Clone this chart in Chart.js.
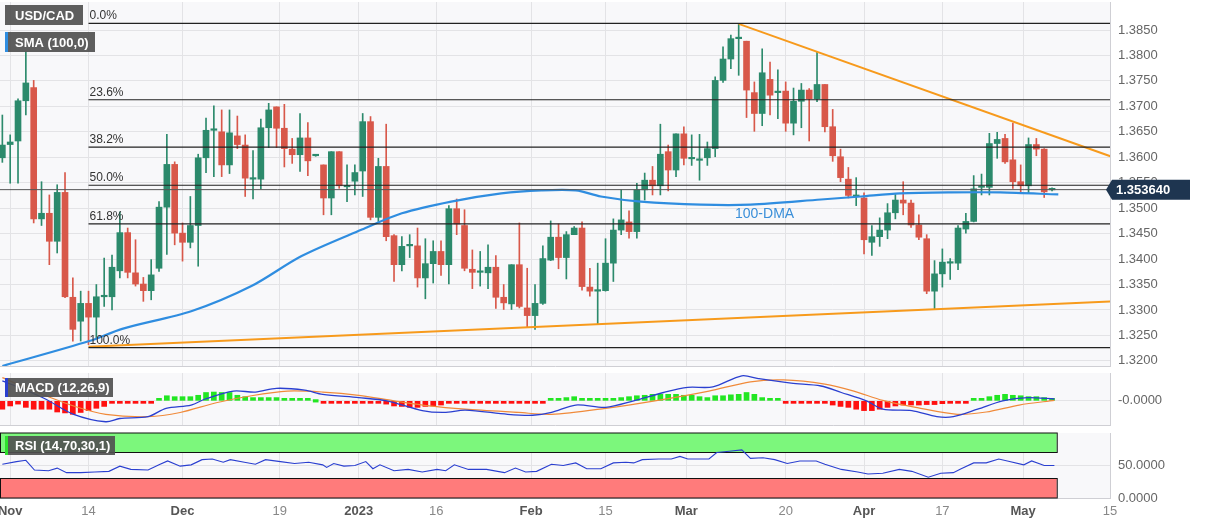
<!DOCTYPE html>
<html><head><meta charset="utf-8">
<script src="https://cdn.jsdelivr.net/npm/chart.js@4.4.0/dist/chart.umd.min.js"></script>
<style>
body{margin:0;background:#fff;overflow:hidden}
.p{position:absolute;left:0;width:1207px}
</style></head><body>
<div class="p" style="top:0;height:368px"><canvas id="main"></canvas></div>
<div class="p" style="top:370px;height:58px"><canvas id="macd"></canvas></div>
<div class="p" style="top:430px;height:96px"><canvas id="rsi"></canvas></div>
<script>
// daily candles, index = trading day from 31 Oct 2022
let opens = [1.3599,1.3625,1.3632,1.3711,1.3737,1.3479,1.3490,1.3435,1.3531,1.3325,1.3278,1.3313,1.3286,1.3326,1.3326,1.3377,1.3452,1.3373,1.3351,1.3338,
1.3382,1.3502,1.3586,1.3451,1.3433,1.3466,1.3599,1.3653,1.3650,1.3585,1.3642,1.3624,1.3557,1.3557,1.3658,1.3699,1.3657,1.3616,1.3605,1.3638,
1.3603,1.3585,1.3520,1.3611,1.3542,1.3553,1.3573,1.3670,1.3482,1.3582,1.3446,1.3389,1.3426,1.3426,1.3363,1.3391,1.3415,1.3389,1.3499,1.3466,
1.3380,1.3374,1.3373,1.3384,1.3325,1.3312,1.3389,1.3304,1.3289,1.3313,1.3398,1.3443,1.3403,1.3448,1.3461,1.3345,1.3337,1.3338,1.3392,1.3457,
1.3473,1.3454,1.3536,1.3555,1.3544,1.3611,1.3575,1.3646,1.3597,1.3594,1.3599,1.3617,1.3751,1.3793,1.3833,1.3828,1.3727,1.3686,1.3753,1.3727,
1.3730,1.3667,1.3710,1.3732,1.3715,1.3743,1.3660,1.3601,1.3557,1.3523,1.3520,1.3433,1.3444,1.3457,1.3491,1.3516,1.3510,1.3467,1.3440,1.3337,
1.3371,1.3392,1.3392,1.3459,1.3474,1.3541,1.3541,1.3627,1.3637,1.3595,1.3552,1.3544,1.3625,1.3616,1.3536];
let closes = [1.3624,1.3630,1.3711,1.3746,1.3479,1.3490,1.3435,1.3531,1.3326,1.3262,1.3313,1.3286,1.3326,1.3327,1.3384,1.3452,1.3374,1.3351,1.3338,1.3369,
1.3502,1.3586,1.3451,1.3433,1.3466,1.3599,1.3653,1.3654,1.3585,1.3648,1.3625,1.3559,1.3558,1.3658,1.3693,1.3657,1.3617,1.3605,1.3638,1.3593,
1.3604,1.3520,1.3611,1.3544,1.3543,1.3570,1.3670,1.3482,1.3582,1.3444,1.3389,1.3425,1.3427,1.3363,1.3391,1.3415,1.3389,1.3499,1.3469,1.3382,
1.3374,1.3375,1.3384,1.3325,1.3314,1.3389,1.3307,1.3289,1.3313,1.3401,1.3443,1.3403,1.3448,1.3461,1.3346,1.3337,1.3338,1.3392,1.3457,1.3477,
1.3454,1.3536,1.3555,1.3544,1.3606,1.3575,1.3646,1.3598,1.3598,1.3595,1.3617,1.3751,1.3793,1.3833,1.3834,1.3732,1.3686,1.3766,1.3722,1.3728,
1.3667,1.3710,1.3732,1.3715,1.3743,1.3660,1.3603,1.3560,1.3525,1.3524,1.3438,1.3444,1.3457,1.3491,1.3516,1.3510,1.3467,1.3443,1.3337,1.3371,
1.3394,1.3393,1.3461,1.3474,1.3538,1.3542,1.3627,1.3635,1.3591,1.3552,1.3544,1.3625,1.3616,1.3532,1.3537];
let highs = [1.3683,1.3644,1.3715,1.3807,1.3751,1.3552,1.3526,1.3546,1.3570,1.3363,1.3337,1.3337,1.3350,1.3402,1.3408,1.3493,1.3461,1.3438,1.3364,1.3399,
1.3513,1.3645,1.3591,1.3471,1.3523,1.3606,1.3677,1.3701,1.3693,1.3693,1.3681,1.3644,1.3613,1.3675,1.3706,1.3699,1.3704,1.3637,1.3686,1.3668,
1.3605,1.3585,1.3611,1.3611,1.3585,1.3585,1.3686,1.3680,1.3598,1.3665,1.3448,1.3444,1.3448,1.3461,1.3440,1.3436,1.3436,1.3505,1.3518,1.3497,
1.3418,1.3415,1.3428,1.3407,1.3350,1.3389,1.3471,1.3382,1.3350,1.3426,1.3475,1.3469,1.3454,1.3464,1.3473,1.3382,1.3392,1.3440,1.3479,1.3536,
1.3495,1.3549,1.3569,1.3582,1.3665,1.3624,1.3646,1.3660,1.3644,1.3645,1.3630,1.3758,1.3817,1.3840,1.3862,1.3828,1.3748,1.3813,1.3787,1.3772,
1.3748,1.3736,1.3745,1.3735,1.3807,1.3743,1.3694,1.3616,1.3580,1.3560,1.3530,1.3466,1.3481,1.3509,1.3527,1.3552,1.3516,1.3487,1.3448,1.3397,
1.3420,1.3401,1.3466,1.3490,1.3564,1.3567,1.3647,1.3649,1.3645,1.3667,1.3585,1.3638,1.3637,1.3617,1.3540];
let lows = [1.3590,1.3549,1.3549,1.3683,1.3471,1.3466,1.3389,1.3412,1.3324,1.3239,1.3239,1.3232,1.3245,1.3307,1.3300,1.3363,1.3363,1.3347,1.3317,1.3320,
1.3376,1.3409,1.3428,1.3396,1.3422,1.3386,1.3570,1.3562,1.3562,1.3568,1.3617,1.3523,1.3518,1.3538,1.3619,1.3619,1.3581,1.3588,1.3572,1.3564,
1.3602,1.3487,1.3487,1.3539,1.3513,1.3526,1.3523,1.3477,1.3474,1.3436,1.3356,1.3377,1.3403,1.3345,1.3322,1.3353,1.3368,1.3351,1.3448,1.3377,
1.3342,1.3347,1.3342,1.3303,1.3301,1.3301,1.3304,1.3266,1.3262,1.3311,1.3397,1.3381,1.3361,1.3448,1.3339,1.3327,1.3273,1.3337,1.3356,1.3448,
1.3441,1.3441,1.3516,1.3526,1.3526,1.3534,1.3562,1.3585,1.3584,1.3555,1.3584,1.3601,1.3747,1.3774,1.3761,1.3678,1.3651,1.3662,1.3683,1.3676,
1.3651,1.3644,1.3658,1.3632,1.3709,1.3650,1.3592,1.3552,1.3520,1.3505,1.3410,1.3407,1.3425,1.3440,1.3479,1.3487,1.3462,1.3438,1.3332,1.3301,
1.3345,1.3360,1.3379,1.3451,1.3473,1.3526,1.3526,1.3598,1.3588,1.3539,1.3529,1.3529,1.3603,1.3521,1.3534];

let smaIdx = [0,11.1,15.3,24.2,31.8,38.2,45.9,51,57.3,63.7,68.8,73.2,76.4,81.5,89.2,95.5,104.5,109.6,114.6,121,127.4,134.8];
let smaVal = [1.3190,1.3239,1.3263,1.3298,1.3347,1.3406,1.3458,1.3490,1.3513,1.3529,1.3535,1.3535,1.3523,1.3513,1.3507,1.3507,1.3517,1.3523,1.3529,1.3531,1.3531,1.3527];

let fibNames = ["0.0%","23.6%","38.2%","50.0%","61.8%","100.0%"];
let fibLevels = [1.3863,1.3713,1.3620,1.3545,1.3469,1.3226];
let lastPrice = 1.35364;
let upperTrend = [{x:94,y:1.3862},{x:142,y:1.3599}];
let lowerTrend = [{x:11,y:1.3228},{x:142,y:1.3317}];

let macdIdx = [0,2.7,5.5,9.1,13.2,15,18.6,20.9,24.1,25.9,29.5,32.3,35,38.6,40.9,45.5,49.1,53.6,56.4,59.1,64.5,67.7,
70.1,73.2,77,80.6,84.4,87.5,90.7,94.4,96.5,100.7,104.5,107.1,110.3,112.4,116.1,119.3,121.4,124.5,127.7,130.9,134.3];
let macdVal = [0.0043,0.0025,0.0004,-0.0029,-0.0045,-0.0038,-0.0034,-0.0016,-0.0009,0.0004,0.0021,0.0019,0.0027,0.0023,0.0014,0.0007,0,-0.0021,-0.0025,-0.0020,-0.0029,-0.0031,
-0.0025,-0.0009,-0.0014,0,0.0018,0.0029,0.0030,0.0054,0.0048,0.0038,0.0032,0.0018,0,-0.0018,-0.0021,-0.0034,-0.0034,-0.0018,0,0.0007,0.0004];
let sigIdx = [0,4.5,9.1,13.2,18.6,22.7,27.3,31.8,36.4,40.9,45.5,50,54.5,59.1,65.9,
70.1,77,83.3,90.2,95.5,99.7,105,108.7,112.4,116.6,121.9,125.6,129.8,134.3];
let sigVal = [0.0050,0.0018,-0.0011,-0.0029,-0.0034,-0.0025,-0.0004,0.0011,0.0021,0.0019,0.0012,0,-0.0011,-0.0018,-0.0025,
-0.0029,-0.0016,0,0.0021,0.0041,0.0045,0.0036,0.0021,0.0001,-0.0014,-0.0029,-0.0024,-0.0009,0.0001];
let histVal = [-0.0018,-0.0011,-0.0007,-0.0014,-0.0018,-0.0018,-0.0018,-0.0024,-0.0026,-0.0029,-0.0025,-0.0021,-0.0016,-0.0012,-0.0004,-0.0001,-0.0001,-0.0001,-0.0001,-0.0001,
0.0005,0.0011,0.0009,0.0009,0.0009,0.0012,0.0018,0.0019,0.0018,0.0018,0.0012,0.0009,0.0007,0.0007,0.0007,0.0007,0.0004,0.0002,0.0001,
0.0001,0,
-0.0004,-0.0004,-0.0004,-0.0004,-0.0005,-0.0002,-0.0004,-0.0005,-0.0007,-0.0011,-0.0012,-0.0014,-0.0014,-0.0012,-0.0011,-0.0009,-0.0002,-0.0001,
-0.0001,-0.0001,-0.0001,-0.0001,-0.0001,-0.0001,-0.0001,-0.0001,-0.0001,-0.0001,-0.0001,
0.0004,0.0005,0.0007,0.0009,0.0001,0.0001,0.0001,0.0004,0.0005,0.0007,0.0009,0.0011,0.0012,0.0014,0.0014,0.0014,0.0014,0.0012,0.0012,0.0009,0.0007,0.0011,0.0011,0.0013,0.0014,0.0018,0.0014,0.0007,0.0004,0.0002,
-0.0002,-0.0002,-0.0002,-0.0002,-0.0004,-0.0005,-0.0009,-0.0012,-0.0014,-0.0018,-0.0021,-0.0021,-0.0018,-0.0014,-0.0011,-0.0009,-0.0009,-0.0009,-0.0008,-0.0008,-0.0006,-0.0004,-0.0001,
-0.0001,
0.0002,0.0005,0.0009,0.0012,0.0014,0.0012,0.0011,0.0009,0.0009,0.0007,0.0005];

let rsiIdx = [0,1.8,3,4.1,5.9,7,8.2,10,11.8,13.6,15,16.4,18.6,20,21.1,22.7,24.1,25.5,26.8,28.2,29.1,30.9,32.3,33.6,35.5,37.3,39.1,40.9,41.4,42.3,43.6,45,46.4,47.3,48.2,50,51.8,53.6,55.5,56.6,57.7,59.5,61.8,64.1,65.5,66.8,68.2,
70.1,71.6,73.2,74.6,76.4,78,79.6,80.6,81.7,83.8,85.4,86.5,87.5,90.2,91.2,92.8,94.4,95.5,97.1,98.6,100.2,101.8,103.9,105,107.1,109.2,110.5,112.4,114.5,116.1,118.2,119.8,121.4,122.4,124,125.6,127.2,128.3,130.4,131.4,133,134.3];
let rsiVal = [52,56,58,43,42,46,39,39,40,41,49,44,43,51,57,49,51,59,60,55,59,55,52,59,56,53,55,51,47,53,49,50,56,45,51,42,44,40,44,42,51,44,44,39,46,40,41,
52,50,54,45,45,54,55,54,59,60,60,64,60,60,70,72,74,61,62,59,53,57,57,52,44,40,37,38,44,41,32,38,39,45,54,54,60,57,51,57,50,50];

let tickIdx = [1,11,23,35.4,45.5,55.4,67.5,77,87.3,100,110,120,130.3,141.4];
let tickNames = ["Nov","14","Dec","19","2023","16","Feb","15","Mar","20","Apr","17","May","15"];
let boldTicks = ["Nov","Dec","2023","Feb","Mar","Apr","May"];

const GREEN = "#2c8a6c", RED = "#d8584a";
const isUp = i => closes[i] >= opens[i];

function xScale(showLabels) {
  return {
    type: "linear", min: -0.3, max: 141.4, offset: false,
    afterBuildTicks: s => { s.ticks = tickIdx.map(v => ({ value: v })); },
    grid: { color: "#e3e3e6", drawTicks: false, offset: false },
    border: { color: "#cfcfd4" },
    ticks: {
      display: showLabels, padding: 6, maxRotation: 0, autoSkip: false,
      callback: (v, i) => tickNames[i],
      font: c => ({ family: "Liberation Sans", size: 13, weight: boldTicks.includes(tickNames[c.index]) ? "bold" : "normal" }),
      color: c => boldTicks.includes(tickNames[c.index]) ? "#555" : "#888",
    },
    afterFit: s => { s.height = showLabels ? 26 : 0; s.paddingLeft = 0; s.paddingRight = 0; },
  };
}
function yRight(min, max, ticks, fmt) {
  return {
    position: "right", min: min, max: max,
    afterBuildTicks: s => { s.ticks = ticks.map(v => ({ value: v })); },
    afterFit: s => { s.width = 97; s.paddingTop = 0; s.paddingBottom = 0; },
    grid: { color: "#e3e3e6", drawTicks: false },
    border: { color: "#cfcfd4" },
    ticks: { padding: 8, color: "#666", font: { family: "Liberation Sans", size: 13 }, callback: fmt },
  };
}
function box(ctx, x, y, w, h, text, stripe) {
  ctx.fillStyle = "rgba(80,80,80,0.92)";
  ctx.fillRect(x, y, w, h);
  if (stripe) { ctx.fillStyle = stripe; ctx.fillRect(x, y, 3, h); }
  ctx.fillStyle = "#fff";
  ctx.font = "bold 13px 'Liberation Sans'";
  ctx.textBaseline = "middle";
  ctx.fillText(text, x + 10, y + h / 2 + 1);
}
const panelBg = {
  id: "panelBg",
  beforeDraw(chart) {
    const a = chart.chartArea, c = chart.ctx;
    c.save(); c.fillStyle = "#f8f8fa"; c.fillRect(a.left, a.top, a.right - a.left, a.bottom - a.top); c.restore();
  },
};
const common = {
  responsive: true, maintainAspectRatio: false, animation: false,
  plugins: { legend: { display: false }, tooltip: { enabled: false } },
};

// main price panel
const mainTicks = [];
for (let v = 13200; v <= 13850; v += 50) mainTicks.push(v / 10000);
const xy = (xs, ys) => xs.map((x, i) => ({ x: x, y: ys[i] }));
const fibDatasets = fibLevels.map(v => ({
  type: "line", data: [{ x: 11, y: v }, { x: 141.4, y: v }], borderColor: "#222", borderWidth: 1.2, pointRadius: 0,
}));
new Chart(document.getElementById("main"), {
  type: "bar",
  data: {
    datasets: [
      ...fibDatasets,
      { type: "line", data: [{ x: -0.3, y: lastPrice }, { x: 141.4, y: lastPrice }], borderColor: "#555", borderWidth: 1, pointRadius: 0 },
      { type: "line", data: upperTrend, borderColor: "#f79a1c", borderWidth: 2, pointRadius: 0 },
      { type: "line", data: lowerTrend, borderColor: "#f79a1c", borderWidth: 2, pointRadius: 0 },
      { type: "line", data: xy(smaIdx, smaVal), borderColor: "#2f8de0", borderWidth: 2.2, pointRadius: 0, tension: 0.3 },
      {
        data: lows.map((l, i) => ({ x: i, y: [l, highs[i]] })),
        backgroundColor: c => isUp(c.dataIndex) ? GREEN : RED, barThickness: 1, grouped: false,
      },
      {
        data: opens.map((o, i) => ({ x: i, y: [o, closes[i]] })),
        backgroundColor: c => isUp(c.dataIndex) ? GREEN : RED, barThickness: 6, minBarLength: 1.5, grouped: false,
      },
    ],
  },
  options: {
    ...common,
    layout: { padding: { top: 2, bottom: 2 } },
    scales: { x: xScale(false), y: yRight(1.3190, 1.3905, mainTicks, v => v.toFixed(4)) },
  },
  plugins: [panelBg, {
    id: "mainText",
    afterDraw(chart) {
      const c = chart.ctx, y = chart.scales.y, x = chart.scales.x;
      c.save();
      c.font = "12px 'Liberation Sans'"; c.fillStyle = "#333"; c.textBaseline = "alphabetic";
      fibLevels.forEach((v, i) => c.fillText(fibNames[i], x.getPixelForValue(11) + 1, y.getPixelForValue(v) - 4));
      c.font = "14px 'Liberation Sans'"; c.fillStyle = "#3a8fd9";
      c.fillText("100-DMA", 735, 218);
      box(c, 5, 5, 78, 20, "USD/CAD");
      box(c, 5, 32, 90, 20, "SMA (100,0)", "#2f8de0");
      const py = y.getPixelForValue(lastPrice);
      c.fillStyle = "#1e3550";
      c.beginPath(); c.moveTo(1106, py); c.lineTo(1112, py - 10); c.lineTo(1190, py - 10); c.lineTo(1190, py + 10); c.lineTo(1112, py + 10); c.closePath(); c.fill();
      c.fillStyle = "#fff"; c.font = "bold 13px 'Liberation Sans'"; c.textBaseline = "middle";
      c.fillText("1.353640", 1116, py + 1);
      c.restore();
    },
  }],
});

// MACD panel
new Chart(document.getElementById("macd"), {
  type: "bar",
  data: {
    datasets: [
      { type: "line", data: xy(macdIdx, macdVal), borderColor: "#2a3fd0", borderWidth: 1.3, pointRadius: 0, tension: 0.3 },
      { type: "line", data: xy(sigIdx, sigVal), borderColor: "#f08a3a", borderWidth: 1.2, pointRadius: 0, tension: 0.3 },
      {
        data: histVal.map((v, i) => ({ x: i, y: v })),
        backgroundColor: c => histVal[c.dataIndex] >= 0 ? "#22e622" : "#ff1010", barThickness: 5, minBarLength: 2.5,
      },
    ],
  },
  options: {
    ...common,
    layout: { padding: { top: 3, bottom: 3 } },
    scales: { x: xScale(false), y: yRight(-0.0052, 0.0060, [0], () => "-0.0000") },
  },
  plugins: [panelBg, {
    id: "macdText",
    afterDraw(chart) { box(chart.ctx, 5, 8, 108, 19, "MACD (12,26,9)", "#2a3fd0"); },
  }],
});

// RSI panel
new Chart(document.getElementById("rsi"), {
  type: "line",
  data: { datasets: [{ data: xy(rsiIdx, rsiVal), borderColor: "#2a3fd0", borderWidth: 1.1, pointRadius: 0 }] },
  options: {
    ...common,
    layout: { padding: { top: 3, bottom: 2 } },
    scales: { x: xScale(true), y: yRight(0, 100, [0, 50], v => v.toFixed(4)) },
  },
  plugins: [panelBg, {
    id: "zones",
    beforeDatasetsDraw(chart) {
      const c = chart.ctx, x = chart.scales.x, y = chart.scales.y;
      const l = x.left, r = x.getPixelForValue(134.6);
      c.save();
      c.fillStyle = "#7cf77c"; c.fillRect(l, y.getPixelForValue(100), r - l, y.getPixelForValue(70) - y.getPixelForValue(100));
      c.fillStyle = "#ff7b7b"; c.fillRect(l, y.getPixelForValue(30), r - l, y.getPixelForValue(0) - y.getPixelForValue(30));
      c.strokeStyle = "#111"; c.lineWidth = 1;
      c.strokeRect(l + 0.5, y.getPixelForValue(100), r - l, y.getPixelForValue(70) - y.getPixelForValue(100));
      c.strokeRect(l + 0.5, y.getPixelForValue(30), r - l, y.getPixelForValue(0) - y.getPixelForValue(30));
      c.restore();
    },
    afterDraw(chart) { box(chart.ctx, 5, 6, 110, 19, "RSI (14,70,30,1)", "#2ee02e"); },
  }],
});
</script>
</body></html>
